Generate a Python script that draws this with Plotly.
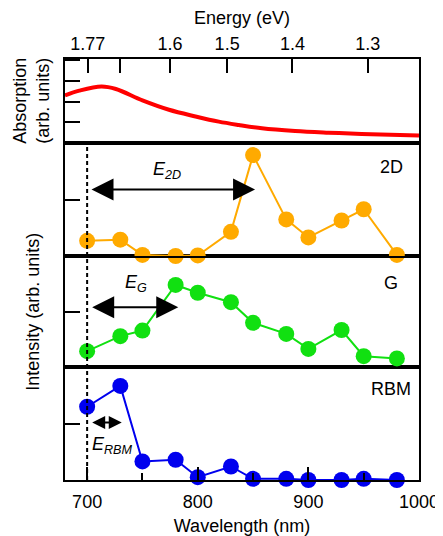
import plotly.graph_objects as go

# ---- data ----
wavelength = [700, 730, 750, 780, 800, 830, 850, 880, 900, 930, 950, 980]
i_2d = [0.27, 0.29, 0.02, 0.0, 0.01, 0.43, 1.79, 0.65, 0.33, 0.63, 0.83, 0.02]
i_g = [0.29, 0.56, 0.66, 1.48, 1.34, 1.17, 0.80, 0.60, 0.33, 0.67, 0.20, 0.16]
i_rbm = [1.30, 1.67, 0.33, 0.36, 0.05, 0.24, 0.02, 0.02, 0.0, 0.0, 0.02, 0.0]

abs_wl = [680, 693, 713, 726, 750, 774, 798, 819, 837, 858, 888, 918, 948, 1000]
abs_val = [2.30, 2.53, 2.73, 2.61, 2.06, 1.61, 1.29, 1.04, 0.88, 0.72, 0.59, 0.51, 0.45, 0.38]

energy_ticks = [1.77, 1.7, 1.6, 1.5, 1.4, 1.3]
energy_labels = ["1.77", "", "1.6", "1.5", "1.4", "1.3"]
HC = 1239.84  # eV*nm

FONT = "Arial, Liberation Sans, sans-serif"
ORANGE = "#FFAA00"
GREEN = "#11E011"
BLUE = "#0000EE"
RED = "#FF0000"

fig = go.Figure()

def add_series(y, color, xa, ya):
    fig.add_trace(go.Scatter(x=wavelength, y=y, mode="lines+markers",
                             line=dict(color=color, width=2),
                             marker=dict(color=color, size=16),
                             cliponaxis=False, xaxis=xa, yaxis=ya,
                             showlegend=False))

add_series(i_rbm, BLUE, "x", "y")
add_series(i_g, GREEN, "x2", "y2")
add_series(i_2d, ORANGE, "x3", "y3")
fig.add_trace(go.Scatter(x=abs_wl, y=abs_val, mode="lines",
                         line=dict(color=RED, width=4, shape="spline"),
                         xaxis="x4", yaxis="y4", showlegend=False))

b1, b2, b3 = 0.2677, 0.532, 0.7998
frame = dict(showline=True, linecolor="black", linewidth=2, mirror=True,
             showgrid=False, zeroline=False, automargin=False)
yt = dict(ticks="inside", ticklen=15, tickwidth=1.5, tickcolor="black",
          showticklabels=False)

fig.update_layout(
    width=435, height=528,
    margin=dict(l=57, r=24, t=51, b=56, autoexpand=False),
    plot_bgcolor="white", paper_bgcolor="white",
    font=dict(family=FONT, size=18, color="black"),
    xaxis=dict(frame, anchor="y", range=[680, 1000],
               tickvals=[700, 800, 900, 1000], ticks="inside", ticklen=13,
               tickwidth=1.5, tickcolor="black", ticklabelstandoff=4,
               minor=dict(ticks="inside", ticklen=7, dtick=50, tick0=700,
                          tickcolor="black", tickwidth=1.5),
               tickfont=dict(size=18),
               title=dict(text="Wavelength (nm)", font=dict(size=18), standoff=9)),
    xaxis2=dict(frame, anchor="y2", matches="x", range=[680, 1000],
                showticklabels=False, ticks=""),
    xaxis3=dict(frame, anchor="y3", matches="x", range=[680, 1000],
                showticklabels=False, ticks=""),
    xaxis4=dict(frame, anchor="y4", matches="x", range=[680, 1000], side="top",
                tickvals=[HC / e for e in energy_ticks], ticktext=energy_labels,
                ticks="inside", ticklen=14, tickwidth=1.5, tickcolor="black",
                ticklabelstandoff=0, tickfont=dict(size=18),
                title=dict(text="Energy (eV)", font=dict(size=18), standoff=4)),
    yaxis=dict(frame, domain=[0, b1], range=[0, 2], tickvals=[0, 1, 2], **yt),
    yaxis2=dict(frame, domain=[b1, b2], range=[0, 2], tickvals=[0, 1, 2], **yt),
    yaxis3=dict(frame, domain=[b2, b3], range=[0, 2], tickvals=[0, 1, 2], **yt),
    yaxis4=dict(frame, domain=[b3, 1], range=[0, 4.05], tickvals=[1, 2, 3, 4], **yt),
)

# dashed reference line at 700 nm
fig.add_shape(type="line", xref="x", yref="paper", x0=700, x1=700, y0=0, y1=b3,
              line=dict(color="black", width=2, dash="4px,3px"))

# double arrows
def darrow(x0, x1, y, xr, yr, size):
    fig.add_annotation(x=x1, y=y, ax=x0, ay=y, xref=xr, yref=yr, axref=xr, ayref=yr,
                       text="", showarrow=True, arrowhead=2, arrowside="end+start",
                       arrowsize=size, arrowwidth=2, arrowcolor="black",
                       standoff=0, startstandoff=0)

darrow(702.6, 851.8, 1.18, "x3", "y3", 2.2)
darrow(703.2, 782.4, 1.08, "x2", "y2", 2.2)
darrow(703.2, 731.3, 1.02, "x", "y", 1.3)

# labels
def label(text, x, y, xr, yr, size=18):
    fig.add_annotation(x=x, y=y, xref=xr, yref=yr, text=text, showarrow=False,
                       font=dict(size=size, family=FONT, color="black"),
                       xanchor="center", yanchor="middle")

label("<i>E</i><sub><i>2D</i></sub>", 772, 1.52, "x3", "y3")
label("<i>E</i><sub><i>G</i></sub>", 744, 1.51, "x2", "y2")
label("<i>E</i><sub><i>RBM</i></sub>", 723, 0.62, "x", "y")
label("2D", 975, 1.58, "x3", "y3")
label("G", 975, 1.52, "x2", "y2")
label("RBM", 975, 1.62, "x", "y")

# y titles
fig.add_annotation(x=-0.097, y=(b3 + 1) / 2, xref="paper", yref="paper",
                   text="Absorption<br>(arb. units)", textangle=-90, showarrow=False,
                   font=dict(size=18, family=FONT), xanchor="center", yanchor="middle")
fig.add_annotation(x=-0.09, y=b3 / 2, xref="paper", yref="paper",
                   text="Intensity (arb. units)", textangle=-90, showarrow=False,
                   font=dict(size=18, family=FONT), xanchor="center", yanchor="middle")

fig.write_html("out.html")
